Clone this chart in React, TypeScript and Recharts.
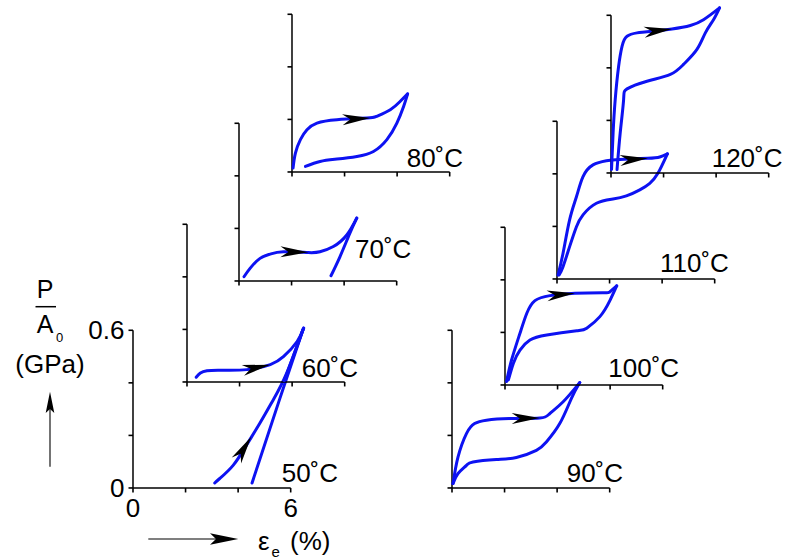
import React from "react";
import {
  ComposedChart,
  Line,
  Scatter,
  XAxis,
  YAxis,
  ReferenceLine,
} from "recharts";

type Pt = [number, number];

// strain (%) / stress (GPa) pairs, loading then unloading branch
const load50: Pt[] = [[3.11, 0.019], [3.3, 0.036], [3.81, 0.086], [4.3, 0.16], [4.82, 0.245], [5.33, 0.334], [5.84, 0.435], [6.47, 0.603]];
const unload50: Pt[] = [[6.47, 0.603], [5.58, 0.338], [4.53, 0.019]];

const load60: Pt[] = [[0.35, 0.018], [0.51, 0.034], [0.76, 0.043], [1.27, 0.045], [2.28, 0.047], [3.17, 0.066], [3.68, 0.097], [4.19, 0.154], [4.44, 0.205]];
const unload60: Pt[] = [[4.44, 0.205], [4.05, 0.1], [3.7, 0.005]];

const load70: Pt[] = [[0.19, 0.016], [0.42, 0.048], [0.8, 0.086], [1.18, 0.102], [1.69, 0.111], [2.64, 0.108], [3.08, 0.111], [3.59, 0.131], [4.1, 0.175], [4.48, 0.239]];
const unload70: Pt[] = [[4.48, 0.239], [4.22, 0.182], [3.84, 0.092], [3.5, 0.02]];

const load80: Pt[] = [[0.04, 0.015], [0.13, 0.072], [0.32, 0.123], [0.57, 0.161], [0.95, 0.186], [1.71, 0.199], [2.85, 0.205], [3.23, 0.212], [3.74, 0.237], [4.12, 0.269], [4.4, 0.297]];
const unload80: Pt[] = [[4.4, 0.297], [4.25, 0.25], [3.99, 0.186], [3.61, 0.123], [3.1, 0.078], [2.47, 0.059], [1.71, 0.049], [1.07, 0.04], [0.51, 0.021]];

const load90: Pt[] = [[0.04, 0.017], [0.23, 0.118], [0.55, 0.207], [0.86, 0.245], [1.31, 0.258], [2.2, 0.264], [3.34, 0.266], [3.72, 0.283], [4.22, 0.327], [4.86, 0.401]];
const unload90: Pt[] = [[4.86, 0.401], [4.54, 0.34], [4.1, 0.245], [3.59, 0.175], [3.21, 0.143], [2.45, 0.116], [1.69, 0.108], [0.8, 0.099], [0.55, 0.086], [0.23, 0.055], [0.04, 0.017]];

const load100: Pt[] = [[0.06, 0.013], [0.25, 0.095], [0.57, 0.197], [0.83, 0.273], [1.14, 0.321], [1.71, 0.34], [2.66, 0.349], [3.74, 0.351], [4.0, 0.355], [4.25, 0.377]];
const unload100: Pt[] = [[4.25, 0.377], [4.0, 0.323], [3.61, 0.26], [3.11, 0.216], [2.73, 0.206], [1.59, 0.19], [0.95, 0.171], [0.57, 0.133], [0.32, 0.083], [0.13, 0.019]];

const load110: Pt[] = [[0.04, 0.015], [0.23, 0.098], [0.48, 0.225], [0.74, 0.313], [0.99, 0.389], [1.37, 0.434], [1.88, 0.45], [2.39, 0.455], [3.45, 0.459], [3.91, 0.464], [4.2, 0.476]];
const unload110: Pt[] = [[4.2, 0.476], [3.84, 0.402], [3.53, 0.364], [3.15, 0.339], [2.64, 0.316], [2.13, 0.304], [1.5, 0.288], [0.99, 0.244], [0.74, 0.199], [0.48, 0.123], [0.23, 0.047], [0.08, 0.015]];

const load120: Pt[] = [[0.02, 0.013], [0.08, 0.152], [0.16, 0.279], [0.29, 0.406], [0.42, 0.482], [0.61, 0.52], [0.99, 0.533], [1.37, 0.537], [2.32, 0.548], [3.02, 0.561], [3.52, 0.583], [4.13, 0.628]];
const unload120: Pt[] = [[4.13, 0.628], [3.9, 0.583], [3.59, 0.533], [3.27, 0.47], [2.76, 0.413], [2.26, 0.375], [1.37, 0.349], [0.61, 0.32], [0.48, 0.279], [0.35, 0.152], [0.23, 0.013]];

// direction arrows: tip point and a point behind it on the loading branch
const arrow50: Pt[] = [[4.5, 0.195], [4.0, 0.115]];
const arrow60: Pt[] = [[3.17, 0.066], [2.28, 0.047]];
const arrow70: Pt[] = [[2.64, 0.109], [1.69, 0.111]];
const arrow80: Pt[] = [[2.98, 0.205], [1.81, 0.198]];
const arrow90: Pt[] = [[3.34, 0.266], [2.2, 0.264]];
const arrow100: Pt[] = [[2.66, 0.349], [1.71, 0.34]];
const arrow110: Pt[] = [[3.46, 0.459], [2.22, 0.449]];
const arrow120: Pt[] = [[2.32, 0.548], [1.37, 0.537]];

const temps = ["50˚C", "60˚C", "70˚C", "80˚C", "90˚C", "100˚C", "110˚C", "120˚C"];
const xTicks = [0, 2, 4, 6];
const yTicks = [0, 0.2, 0.4, 0.6];
const xTickText: Record<number, string> = { 0: "0", 6: "6" };
const yTickText: Record<number, string> = { 0: "0", 0.6: "0.6" };

const FONT = '"Liberation Sans", Arial, Helvetica, sans-serif';
const BLUE = "#0d12f2";

// 3 tick intervals = 157.7 px on both axes
const AXIS_LEN = 157.7;
const PX = AXIS_LEN / 6; // px per %
const PY = AXIS_LEN / 0.6; // px per GPa
const PLOT = 7 * PX; // plot drawn over 0..7 % and 0..0.7 GPa
const YW = 50;
const XH = 34;

type Panel = {
  load: Pt[];
  unload: Pt[];
  arrow: Pt[];
  ox: number;
  oy: number;
  lx: number;
  ly: number;
};

const panels: Panel[] = [
  { load: load50, unload: unload50, arrow: arrow50, ox: 133.3, oy: 487.7, lx: 281.7, ly: 481.5 },
  { load: load60, unload: unload60, arrow: arrow60, ox: 186.7, oy: 382.3, lx: 301.7, ly: 376.7 },
  { load: load70, unload: unload70, arrow: arrow70, ox: 239, oy: 281, lx: 355, ly: 258.3 },
  { load: load80, unload: unload80, arrow: arrow80, ox: 291.7, oy: 172.3, lx: 406.7, ly: 166.7 },
  { load: load90, unload: unload90, arrow: arrow90, ox: 452.3, oy: 487.7, lx: 566.7, ly: 481.7 },
  { load: load100, unload: unload100, arrow: arrow100, ox: 505, oy: 385, lx: 608.3, ly: 376.7 },
  { load: load110, unload: unload110, arrow: arrow110, ox: 557.3, oy: 279, lx: 660, ly: 271.7 },
  { load: load120, unload: unload120, arrow: arrow120, ox: 610.7, oy: 173.3, lx: 711.7, ly: 166.7 },
];

const toRows = (pts: Pt[]) => pts.map(([x, y]) => ({ x, y }));

function ArrowHead(props: any) {
  const { cx, cy, payload } = props;
  if (cx == null || cy == null) return null;
  const dx = (payload.x - payload.tx) * PX;
  const dy = -(payload.y - payload.ty) * PY;
  const a = (Math.atan2(dy, dx) * 180) / Math.PI;
  return (
    <path
      transform={`translate(${cx},${cy}) rotate(${a})`}
      d="M0,0 L-28,-5.5 L-20,0 L-28,5.5 Z"
      fill="#000"
    />
  );
}

// tick label renderers; unlabelled panels keep their tick marks only
const xTick = (labelled: boolean) => (props: any) => {
  const { x, y, payload } = props;
  const s = labelled ? xTickText[payload.value] : undefined;
  if (!s) return <g />;
  return (
    <text x={x} y={y} dy="0.71em" textAnchor="middle" fontSize={26} fill="#000" fontFamily={FONT}>
      {s}
    </text>
  );
};

const yTick = (labelled: boolean) => (props: any) => {
  const { x, y, payload } = props;
  const s = labelled ? yTickText[payload.value] : undefined;
  if (!s) return <g />;
  return (
    <text x={x} y={y} dy="0.33em" textAnchor="end" fontSize={26} fill="#000" fontFamily={FONT}>
      {s}
    </text>
  );
};

function LoopPanel({ p, labelled }: { p: Panel; labelled: boolean }) {
  const arrowRow = [{ x: p.arrow[0][0], y: p.arrow[0][1], tx: p.arrow[1][0], ty: p.arrow[1][1] }];
  return (
    <div style={{ position: "absolute", left: p.ox - YW, top: p.oy - PLOT }}>
      <ComposedChart width={YW + PLOT} height={PLOT + XH} margin={{ top: 0, right: 0, bottom: 0, left: 0 }}>
        <XAxis
          type="number"
          dataKey="x"
          domain={[0, 7]}
          ticks={xTicks}
          interval={0}
          height={XH}
          stroke="#000"
          axisLine={false}
          tickLine={{ stroke: "#000", strokeWidth: 1.6 }}
          tickSize={4.5}
          tickMargin={6}
          tick={xTick(labelled)}
        />
        <YAxis
          type="number"
          dataKey="y"
          domain={[0, 0.7]}
          ticks={yTicks}
          interval={0}
          width={YW}
          stroke="#000"
          axisLine={false}
          tickLine={{ stroke: "#000", strokeWidth: 1.6 }}
          tickSize={4.5}
          tickMargin={4}
          tick={yTick(labelled)}
        />
        <ReferenceLine segment={[{ x: 0, y: 0 }, { x: 6, y: 0 }]} stroke="#000" strokeWidth={1.5} />
        <ReferenceLine segment={[{ x: 0, y: 0 }, { x: 0, y: 0.6 }]} stroke="#000" strokeWidth={1.5} />
        <Line
          data={toRows(p.load)}
          dataKey="y"
          type="natural"
          stroke={BLUE}
          strokeWidth={3}
          strokeLinecap="round"
          dot={false}
          isAnimationActive={false}
        />
        <Line
          data={toRows(p.unload)}
          dataKey="y"
          type="natural"
          stroke={BLUE}
          strokeWidth={3}
          strokeLinecap="round"
          dot={false}
          isAnimationActive={false}
        />
        <Scatter data={arrowRow} dataKey="y" shape={ArrowHead} isAnimationActive={false} />
      </ComposedChart>
    </div>
  );
}

export default function App() {
  return (
    <div style={{ position: "absolute", left: 0, top: 0, width: 791, height: 560, background: "#fff", fontFamily: FONT }}>
      {panels.map((p, i) => (
        <LoopPanel key={temps[i]} p={p} labelled={i === 0} />
      ))}
      <svg
        width={791}
        height={560}
        style={{ position: "absolute", left: 0, top: 0, pointerEvents: "none" }}
        fontFamily={FONT}
      >
        {panels.map((p, i) => (
          <text key={temps[i]} x={p.lx} y={p.ly} fontSize={26} fill="#000">
            {temps[i]}
          </text>
        ))}
        {/* y title: P / A0 (GPa) with upward arrow */}
        <text x={45} y={298.3} fontSize={25} textAnchor="middle">P</text>
        <line x1={35.5} x2={56} y1={306.7} y2={306.7} stroke="#000" strokeWidth={1.5} />
        <text x={45} y={333.3} fontSize={25} textAnchor="middle">A</text>
        <text x={56} y={341.5} fontSize={13}>0</text>
        <text x={50} y={373} fontSize={26} textAnchor="middle">(GPa)</text>
        <line x1={50} x2={50} y1={466.7} y2={405} stroke="#000" strokeWidth={1.1} />
        <path d="M50,391.7 L54.3,413 L50,409 L45.7,413 Z" fill="#000" />
        {/* x title: arrow and strain label */}
        <line x1={148.3} x2={225} y1={539} y2={539} stroke="#000" strokeWidth={1.1} />
        <path d="M238.3,539 L210,533.3 L216,539 L210,544.7 Z" fill="#000" />
        <text x={258} y={550} fontSize={26}>ε</text>
        <text x={271.5} y={557} fontSize={15}>e</text>
        <text x={290} y={550} fontSize={26}>(%)</text>
      </svg>
    </div>
  );
}
